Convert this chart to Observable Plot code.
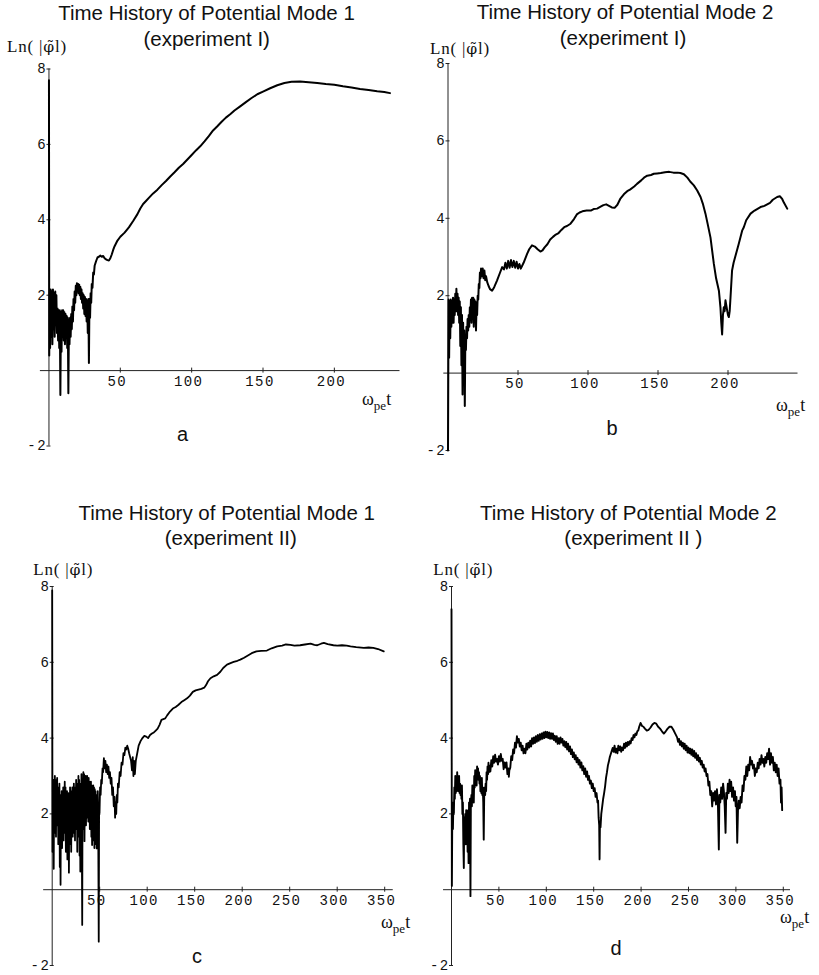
<!DOCTYPE html>
<html>
<head>
<meta charset="utf-8">
<script src="https://cdn.jsdelivr.net/npm/d3@7"></script>
<script src="https://cdn.jsdelivr.net/npm/@observablehq/plot@0.6"></script>
<style>
  html, body { margin: 0; padding: 0; background: #fff; }
  #page { position: relative; width: 819px; height: 975px; background: #fff; overflow: hidden; }
  .lbl { position: absolute; white-space: nowrap; color: #111; }
  .panel { position: absolute; }
  .phi { font-family: "DejaVu Serif"; font-size: 0.92em; }
</style>
</head>
<body>
<div id="page"></div>
<script>
// ---------------- data ----------------
const yTicks = [-2, 2, 4, 6, 8];
const xTicksTop = [50, 100, 150, 200];
const xTicksBottom = [50, 100, 150, 200, 250, 300, 350];

const titles = [
  ["Time History of Potential Mode 1", "(experiment I)"],
  ["Time History of Potential Mode 2", "(experiment I)"],
  ["Time History of Potential Mode 1", "(experiment II)"],
  ["Time History of Potential Mode 2", "(experiment II )"]
];
const panelLetters = ["a", "b", "c", "d"];
const yLabelHtml = 'Ln( |<span class="phi">\u03C6\u0303</span>l)';

// mode 1, experiment I  [ω_pe t, Ln|φ|]
const mode1ExpI = [
[0,7.7],[0.2,0.4],[0.5,2.1],[0.8,0.6],[1.2,2.15],[1.6,0.9],[2,2.1],[2.4,0.7],[2.8,2.15],[3.2,1.1],[3.6,2.05],[4,0.9],[4.4,2.1],[4.8,1.2],[5.2,2.0],[5.6,1.0],[6,1.65],[6.4,0.8],[6.8,1.6],[7.2,0.6],[7.6,1.6],[8,-0.65],[8.4,1.55],[8.8,0.5],[9.2,1.6],[9.6,0.9],[10,1.6],[10.4,0.8],[10.8,1.55],[11.2,0.7],[11.6,1.5],[12,0.9],[12.4,1.45],[12.8,0.6],[13.2,1.4],[13.6,-0.6],[14,1.35],[14.4,0.7],[14.8,1.4],[15.2,0.9],[15.6,1.5],[16,1.1],[16.4,1.7],[16.8,1.3],[17.2,1.9],[17.6,1.6],[18,2.1],[18.4,1.8],[18.8,2.25],[19.2,2.0],[19.6,2.32],[20,2.1],[20.4,2.3],[20.8,2.05],[21.2,2.28],[21.6,2.0],[22,2.22],[22.4,1.9],[22.8,2.15],[23.2,1.8],[23.6,2.05],[24,1.65],[24.4,2.0],[24.8,1.5],[25.2,1.95],[25.6,1.45],[26,1.9],[26.4,1.3],[26.8,1.85],[27.2,1.0],[27.6,1.9],[28,0.2],[28.4,1.9],[28.8,1.4],[29.2,2.05],[29.6,1.8],[30,2.3],[30.5,2.2],[31,2.6],[31.5,2.55],[32,2.78],[33,2.9],[34,3.0],[35,3.02],[36,3.05],[37,3.02],[38,3.04],[39,2.98],[40,2.95],[41,2.93],[42,2.92],[43,2.98],[44,3.08],[45,3.2],[46,3.3],[48,3.45],[50,3.55],[53,3.66],[56,3.8],[59,3.97],[62,4.15],[64,4.3],[66,4.42],[68,4.5],[70,4.58],[73,4.7],[76,4.8],[79,4.92],[82,5.03],[85,5.15],[88,5.26],[91,5.38],[94,5.48],[97,5.6],[100,5.72],[103,5.84],[106,5.95],[109,6.08],[112,6.22],[115,6.37],[118,6.48],[121,6.6],[124,6.71],[127,6.8],[130,6.9],[134,7.01],[138,7.12],[142,7.23],[146,7.33],[150,7.4],[155,7.49],[160,7.57],[165,7.63],[170,7.66],[176,7.67],[182,7.65],[188,7.63],[194,7.6],[200,7.58],[206,7.54],[212,7.51],[218,7.47],[224,7.44],[230,7.41],[235,7.39],[239,7.36]
];

// mode 2, experiment I
const mode2ExpI = [
[0,-2.0],[0.4,1.9],[0.8,0.4],[1.2,1.85],[1.6,0.9],[2,1.9],[2.4,1.2],[2.8,1.85],[3.2,1.3],[3.6,1.95],[4,1.3],[4.4,1.9],[4.8,1.5],[5.2,2.05],[5.6,1.6],[6,2.18],[6.4,1.6],[6.8,2.05],[7.2,1.5],[7.6,1.95],[8,1.3],[8.4,1.85],[8.8,0.7],[9.2,1.7],[9.6,0.2],[10,1.5],[10.4,-0.55],[10.8,1.3],[11.2,-0.3],[11.6,1.1],[12,-0.85],[12.4,1.0],[12.8,0.6],[13.2,1.2],[13.6,0.9],[14,1.4],[14.4,1.1],[14.8,1.5],[15.2,1.2],[15.6,1.7],[16,1.4],[16.4,1.9],[16.8,1.3],[17.2,1.95],[17.6,1.5],[18,1.95],[18.4,1.2],[18.8,1.9],[19.2,1.4],[19.6,1.85],[20,1.1],[20.4,1.8],[20.8,1.5],[21.2,2.0],[21.6,1.9],[22,2.3],[22.4,2.2],[22.8,2.6],[23.2,2.45],[23.6,2.7],[24.2,2.5],[24.8,2.7],[25.4,2.45],[26,2.65],[26.6,2.4],[27.2,2.5],[28,2.35],[29,2.25],[30,2.17],[31.5,2.13],[33,2.22],[35,2.39],[37,2.58],[38.7,2.74],[40,2.68],[41,2.85],[42,2.7],[43,2.9],[44,2.72],[45,2.92],[46,2.74],[47,2.9],[48,2.72],[49,2.88],[50,2.7],[51,2.82],[52,2.7],[54,2.85],[56.5,3.08],[58,3.2],[60,3.3],[62,3.27],[64,3.2],[66,3.14],[67.5,3.17],[69,3.25],[71,3.33],[73,3.45],[75,3.52],[77,3.58],[79,3.62],[81,3.7],[83,3.77],[85,3.8],[87.5,3.86],[90,3.98],[92,4.1],[94,4.15],[96,4.18],[99,4.2],[102,4.2],[104,4.24],[106.5,4.25],[109,4.3],[111,4.34],[113,4.36],[115,4.32],[117,4.28],[119,4.27],[121,4.35],[123,4.5],[125.6,4.62],[128,4.7],[130,4.74],[133,4.82],[135,4.89],[138,4.98],[140,5.05],[142.3,5.1],[145,5.12],[147,5.15],[149.4,5.16],[152,5.17],[155,5.19],[158,5.2],[161,5.18],[164,5.18],[166,5.17],[168.5,5.14],[171,5.05],[173,4.95],[175.6,4.85],[178,4.72],[180.4,4.55],[182,4.38],[183.9,4.12],[185.5,3.85],[187.5,3.5],[189.9,2.82],[191.5,2.45],[193.5,2.13],[194.6,1.7],[195.2,1.3],[195.8,1.0],[196.4,1.5],[197,1.7],[197.6,1.6],[198.2,1.88],[198.8,1.75],[199.4,1.62],[200,1.5],[200.6,1.45],[201.2,1.6],[201.8,1.96],[202.9,2.65],[204,2.85],[205.5,3.05],[207.7,3.34],[210.1,3.68],[211.3,3.77],[213,3.95],[216.1,4.12],[219,4.2],[223.2,4.29],[226,4.32],[228,4.36],[230,4.4],[232,4.48],[235.1,4.55],[237,4.57],[238.7,4.5],[240,4.4],[242.3,4.25]
];

// mode 1, experiment II
const mode1ExpII = [
[0,7.9],[0.3,1.0],[0.6,2.8],[0.9,1.6],[1.2,2.9],[1.6,0.55],[2,2.7],[2.4,1.5],[2.8,3.0],[3.2,1.9],[3.6,2.8],[4,1.4],[4.4,2.9],[4.8,2.0],[5.2,2.95],[5.6,1.7],[6,2.7],[6.4,1.2],[6.8,2.6],[7.2,1.8],[7.6,2.8],[8,0.6],[8.4,2.5],[8.8,0.13],[9.2,2.4],[9.6,1.6],[10,2.6],[10.4,1.1],[10.8,2.5],[11.2,1.8],[11.6,2.7],[12,1.3],[12.4,2.6],[12.8,2.0],[13.2,2.85],[13.6,1.5],[14,2.7],[14.4,1.0],[14.8,2.5],[15.2,1.7],[15.6,2.6],[16,0.8],[16.4,2.4],[16.8,1.5],[17.2,2.55],[17.6,0.45],[18,2.3],[18.4,1.6],[18.8,2.7],[19.2,1.2],[19.6,2.6],[20,1.0],[20.4,2.5],[20.8,1.8],[21.2,2.7],[21.6,1.4],[22,2.65],[22.4,1.9],[22.8,2.8],[23.2,1.5],[23.6,2.6],[24,1.3],[24.4,2.7],[24.8,2.0],[25.2,2.9],[25.6,1.6],[26,2.8],[26.4,1.0],[26.8,2.75],[27.2,1.9],[27.6,3.0],[28,1.4],[28.4,2.9],[28.8,0.9],[29.2,2.8],[29.6,0.48],[30,2.6],[30.4,1.5],[30.8,3.05],[31.2,1.2],[31.6,-0.93],[32,2.9],[32.4,1.9],[32.8,3.1],[33.2,1.6],[33.6,3.05],[34,1.28],[34.4,2.9],[34.8,2.0],[35.2,3.0],[35.6,1.7],[36,2.95],[36.4,1.9],[36.8,3.0],[37.2,2.2],[37.6,2.9],[38,1.8],[38.4,2.95],[38.8,2.3],[39.2,2.85],[39.6,1.6],[40,2.8],[40.4,1.9],[40.8,2.85],[41.2,1.4],[41.6,2.75],[42,1.18],[42.4,2.6],[42.8,1.7],[43.2,2.75],[43.6,1.3],[44,2.7],[44.4,1.1],[44.8,2.65],[45.2,1.5],[45.6,2.6],[46,1.2],[46.4,2.5],[46.8,1.09],[47.2,2.4],[47.6,1.4],[48,2.6],[48.4,1.9],[49,-1.37],[49.4,2.3],[49.8,2.0],[50.4,2.7],[51,2.5],[51.6,2.9],[52.2,2.8],[53,3.2],[53.6,3.1],[54.4,3.47],[55.2,3.2],[56,3.4],[56.8,3.1],[57.6,3.3],[58.4,3.05],[59.2,3.25],[60,2.95],[60.8,3.1],[61.6,2.8],[62.4,2.95],[63.2,2.5],[64,2.7],[64.8,2.2],[65.6,2.45],[66.2,1.9],[66.8,2.3],[67.4,2.0],[68,2.5],[68.6,2.3],[69.2,2.8],[70,2.7],[71,3.1],[72,3.0],[73,3.35],[74,3.3],[75,3.6],[76,3.55],[77,3.75],[78,3.7],[79,3.8],[80,3.72],[81,3.6],[82,3.5],[83,3.4],[84,3.15],[84.8,3.5],[85.5,3.0],[86.2,3.4],[87,3.05],[88,3.4],[89.5,3.6],[91,3.8],[93,3.92],[95,4.0],[97,4.06],[99,4.04],[101,4.0],[103,4.08],[105,4.12],[107,4.15],[109,4.2],[111,4.25],[113,4.35],[115,4.48],[117,4.5],[119,4.52],[121,4.6],[124,4.7],[127,4.78],[130,4.82],[133,4.88],[136,4.95],[139,5.0],[142,5.05],[145,5.12],[148,5.22],[151,5.26],[154,5.28],[157,5.3],[160,5.33],[162,5.4],[164,5.5],[166.6,5.58],[170,5.63],[173.6,5.67],[177,5.75],[180,5.85],[184,5.94],[187.7,5.98],[191,6.01],[195,6.04],[198,6.07],[202,6.12],[206,6.18],[210,6.24],[215,6.29],[220,6.3],[226,6.31],[231,6.37],[236.8,6.42],[242,6.44],[246,6.47],[250.8,6.46],[255,6.44],[261,6.45],[266,6.47],[272,6.49],[276,6.46],[279,6.45],[283,6.49],[286,6.51],[290,6.48],[296,6.45],[300,6.44],[305,6.45],[310,6.44],[314,6.42],[320,6.4],[328,6.38],[333,6.39],[338,6.38],[343,6.35],[349,6.29]
];

// mode 2, experiment II
const mode2ExpII = [
[0,7.4],[0.4,0.1],[0.8,1.9],[1.5,1.6],[2,2.3],[2.5,2.0],[3,2.7],[3.5,2.4],[4,3.0],[4.5,2.55],[5,2.85],[5.5,2.6],[6,3.1],[6.5,2.7],[7,2.95],[7.5,2.6],[8,3.0],[8.5,2.55],[9,2.8],[9.5,2.5],[10,2.75],[10.5,2.4],[11,2.75],[11.5,2.0],[12,2.3],[12.5,1.2],[13,0.57],[13.4,1.9],[14,1.5],[14.5,2.0],[15,1.2],[15.5,2.1],[16,1.3],[16.5,1.9],[17,1.0],[17.5,2.1],[18,0.7],[18.5,2.3],[19,1.5],[19.5,2.4],[20,-0.17],[20.4,2.2],[21,2.5],[21.5,2.2],[22,2.75],[22.5,2.4],[23,2.6],[23.5,2.3],[24,3.0],[24.5,2.7],[25,3.15],[25.5,2.8],[26,3.0],[26.5,2.75],[27,3.25],[27.5,2.95],[28,3.2],[28.5,2.9],[29,3.1],[29.5,2.8],[30,3.0],[30.5,2.6],[31,2.8],[31.5,2.55],[32,2.95],[32.5,2.5],[33,2.7],[33.5,2.3],[34,1.32],[34.5,2.5],[35,2.7],[35.5,2.5],[36,2.8],[36.5,2.6],[37,3.1],[37.5,2.9],[38,3.25],[38.5,3.05],[39,3.35],[39.5,3.1],[40,3.28],[41,3.12],[42,3.42],[43,3.25],[44,3.52],[45,3.35],[46,3.56],[47,3.38],[48,3.45],[49,3.3],[50,3.52],[51,3.38],[52,3.58],[53,3.4],[54,3.45],[55,3.18],[56,3.36],[57,3.22],[58,3.36],[59,3.05],[60,3.2],[60.5,2.98],[61,3.15],[62,3.22],[63,3.52],[64,3.42],[65,3.7],[66,3.6],[67,3.88],[68,3.75],[69,4.05],[70,3.88],[71,3.98],[72,3.78],[73,3.88],[74,3.68],[75,3.8],[76,3.6],[77,3.72],[78,3.6],[79,3.85],[80,3.7],[81,3.88],[82,3.75],[83,3.93],[84,3.78],[85,4.0],[86,3.85],[87,4.02],[88,3.87],[89,4.05],[90,3.9],[91,4.08],[92,3.93],[93,4.1],[94,3.96],[95,4.12],[96,3.98],[97,4.15],[98,4.0],[99,4.17],[100,4.02],[101,4.16],[102,4.0],[103,4.15],[104,3.98],[105,4.13],[106,3.98],[107,4.12],[108,3.95],[109,4.06],[110,3.9],[111,4.05],[112,3.85],[113,4.0],[114,3.85],[115,4.02],[116,3.88],[117,3.98],[118,3.8],[119,3.92],[120,3.76],[121,3.9],[122,3.7],[123,3.85],[124,3.65],[125,3.78],[126,3.58],[127,3.7],[128,3.5],[129,3.62],[130,3.44],[131,3.55],[132,3.36],[133,3.48],[134,3.3],[135,3.42],[136,3.22],[137,3.36],[138,3.15],[139,3.26],[140,3.05],[141,3.2],[142,2.98],[143,3.12],[144,2.9],[145,3.0],[146,2.8],[147,2.88],[148,2.68],[149,2.8],[150,2.6],[151,2.68],[152,2.45],[153,2.55],[154,2.3],[154.6,2.35],[155.2,1.9],[155.8,1.7],[156.2,0.8],[156.6,1.8],[157.2,1.65],[158,2.0],[159,2.2],[160,2.4],[161,2.55],[162,2.72],[163,2.95],[164,3.1],[165,3.28],[166,3.38],[167,3.5],[168,3.58],[169,3.66],[170,3.74],[171,3.64],[172,3.8],[173,3.62],[174,3.72],[175,3.6],[176,3.8],[177,3.68],[178,3.78],[179,3.64],[180,3.75],[181,3.68],[182,3.85],[183,3.74],[184,3.88],[185,3.78],[186,3.9],[187,3.82],[188,3.92],[189,3.86],[190,4.0],[191,3.95],[192,4.08],[193,4.02],[194,4.12],[195,4.08],[196,4.18],[197,4.2],[198,4.3],[199.4,4.4],[201,4.32],[202.5,4.3],[204,4.25],[206,4.2],[208,4.22],[210,4.28],[212,4.36],[214,4.4],[216,4.38],[218,4.3],[220,4.25],[222,4.18],[224,4.12],[226,4.18],[228,4.25],[230,4.3],[232,4.3],[234,4.22],[236,4.12],[238,4.02],[239,3.9],[240,3.98],[241,3.82],[242,3.92],[243,3.78],[244,3.88],[245,3.72],[246,3.85],[247,3.68],[248,3.8],[249,3.62],[250,3.75],[251,3.6],[252,3.72],[253,3.56],[254,3.7],[255,3.52],[256,3.66],[257,3.48],[258,3.6],[259,3.42],[260,3.55],[261,3.38],[262,3.48],[263,3.3],[264,3.4],[265,3.22],[266,3.3],[267,3.12],[268,3.2],[269,3.0],[270,3.05],[271,2.75],[272,2.85],[273,2.5],[274,2.6],[275,2.2],[276,2.55],[277,2.35],[278,2.6],[279,2.25],[280,2.65],[281,2.3],[282,1.06],[282.6,2.5],[283.5,2.3],[284.5,2.7],[285.5,2.4],[286.5,2.8],[287.3,2.6],[288.2,2.2],[289.1,1.5],[289.8,2.55],[290.6,2.4],[291.5,2.8],[292.4,2.55],[293.3,2.9],[294.2,2.6],[295,2.85],[296,2.45],[297,2.7],[298,2.35],[299,2.6],[299.8,2.2],[300.6,2.45],[301.4,1.24],[302.2,2.1],[303,2.35],[304,2.15],[305,2.45],[306,2.3],[307,2.75],[308,2.6],[309,3.0],[310,2.9],[311,3.25],[312,3.0],[313,3.3],[314,3.15],[315,3.5],[316,3.3],[317,3.4],[318,3.2],[319,3.3],[320,3.0],[321,3.2],[322,3.1],[323,3.35],[324,3.2],[325,3.45],[326,3.3],[327,3.55],[328,3.35],[329,3.45],[330,3.25],[331,3.5],[332,3.35],[333,3.6],[334,3.45],[335,3.72],[336,3.3],[337,3.6],[338,3.35],[339,3.5],[340,3.15],[341,3.35],[342,3.1],[343,3.3],[344,3.0],[345,3.2],[346,2.8],[347,2.9],[347.6,2.3],[348.2,2.7],[348.8,2.1]
];

const series = [mode1ExpI, mode2ExpI, mode1ExpII, mode2ExpII];

// ---------------- layout ----------------
const layout = [
  {left: 0,   top: 0,   width: 410, height: 487, mL: 39.9,  mR: 10.5,  mT: 68.5, mB: 41.5, xDomain: [-6, 246],    ticks: xTicksTop,    sw: 2.0},
  {left: 410, top: 0,   width: 409, height: 487, mL: 33.3,  mR: 21.5,  mT: 63,   mB: 37,   xDomain: [-3, 250],    ticks: xTicksTop,    sw: 2.0},
  {left: 0,   top: 487, width: 410, height: 488, mL: 43.15, mR: 17.25, mT: 99,   mB: 10,   xDomain: [-9, 359],    ticks: xTicksBottom, sw: 1.8},
  {left: 410, top: 487, width: 409, height: 488, mL: 33.04, mR: 29,    mT: 99,   mB: 10,   xDomain: [-8.4, 357.6], ticks: xTicksBottom, sw: 1.9}
];
const titlePos = [
  {c1: 206.5, b1: 20.7, c2: 206.7, b2: 45.9},
  {c1: 625,   b1: 19.5, c2: 623,   b2: 45.8},
  {c1: 226.7, b1: 520.6, c2: 230.8, b2: 545.8},
  {c1: 628.3, b1: 520.6, c2: 633.3, b2: 545.8}
];
const yLabelPos = [{x: 7, b: 52.7}, {x: 430, b: 54}, {x: 33.3, b: 575}, {x: 433.3, b: 575}];
const xLabelPos = [{x: 362, b: 405}, {x: 776, b: 411}, {x: 381, b: 928}, {x: 780, b: 923}];
const letterPos = [{x: 182.5, b: 440.5}, {x: 612, b: 435}, {x: 197, b: 963}, {x: 616, b: 955}];

const page = document.getElementById("page");

function addLabel(html, x, baseline, {size = 20.5, family = "Liberation Sans", anchor = "start", asc = 0.8465, ls = 0} = {}) {
  const d = document.createElement("div");
  d.className = "lbl";
  d.innerHTML = html;
  d.style.fontFamily = `"${family}"`;
  d.style.fontSize = size + "px";
  d.style.lineHeight = size + "px";
  d.style.letterSpacing = ls + "px";
  d.style.left = x + "px";
  d.style.top = (baseline - asc * size) + "px";
  if (anchor === "middle") d.style.transform = "translateX(-50%)";
  page.appendChild(d);
}

const tickFont = {fontFamily: "Liberation Mono", fontSize: 14, fill: "#111"};

layout.forEach((L, i) => {
  const data = series[i];
  const chart = Plot.plot({
    width: L.width,
    height: L.height,
    marginLeft: L.mL,
    marginRight: L.mR,
    marginTop: L.mT,
    marginBottom: L.mB,
    style: {fontFamily: "Liberation Mono", fontSize: "14px", letterSpacing: "1.4px", background: "transparent", overflow: "visible"},
    x: {domain: L.xDomain, axis: null},
    y: {domain: [-2, 8], axis: null},
    marks: [
      Plot.ruleX([0], {y1: -2, y2: 8, stroke: "#222", strokeWidth: 1}),
      Plot.ruleY([0], {x1: L.xDomain[0], x2: L.xDomain[1], stroke: "#222", strokeWidth: 1}),
      Plot.ruleY(yTicks, {x1: 0, x2: 0, insetLeft: -2, insetRight: -2, stroke: "#222", strokeWidth: 1}),
      Plot.ruleX(L.ticks, {y1: 0, y2: 0, insetTop: -2.5, insetBottom: -2.5, stroke: "#222", strokeWidth: 1}),
      Plot.text(yTicks, {x: 0, y: d => d, text: d => String(d), textAnchor: "end", dx: -2, lineAnchor: "middle", ...tickFont}),
      Plot.text(L.ticks, {x: d => d, y: 0, text: d => String(d), dx: -3, dy: 10.5, lineAnchor: "middle", ...tickFont}),
      Plot.line(data, {x: d => d[0], y: d => d[1], stroke: "#000", strokeWidth: L.sw, strokeLinejoin: "round", curve: "linear"})
    ]
  });
  const wrap = document.createElement("div");
  wrap.className = "panel";
  wrap.style.left = L.left + "px";
  wrap.style.top = L.top + "px";
  wrap.appendChild(chart);
  page.appendChild(wrap);

  const T = titlePos[i];
  addLabel(titles[i][0], T.c1, T.b1, {anchor: "middle"});
  addLabel(titles[i][1], T.c2, T.b2, {anchor: "middle"});
  addLabel(yLabelHtml, yLabelPos[i].x, yLabelPos[i].b, {size: 17, family: "Liberation Serif", asc: 0.8375, ls: 0.8});
  addLabel('\u03C9<span style="font-size:13px;position:relative;top:5px">pe</span>t', xLabelPos[i].x, xLabelPos[i].b, {size: 18, family: "Liberation Serif", asc: 0.8375});
  addLabel(panelLetters[i], letterPos[i].x, letterPos[i].b, {size: 20, anchor: "middle"});
});
</script>
</body>
</html>
